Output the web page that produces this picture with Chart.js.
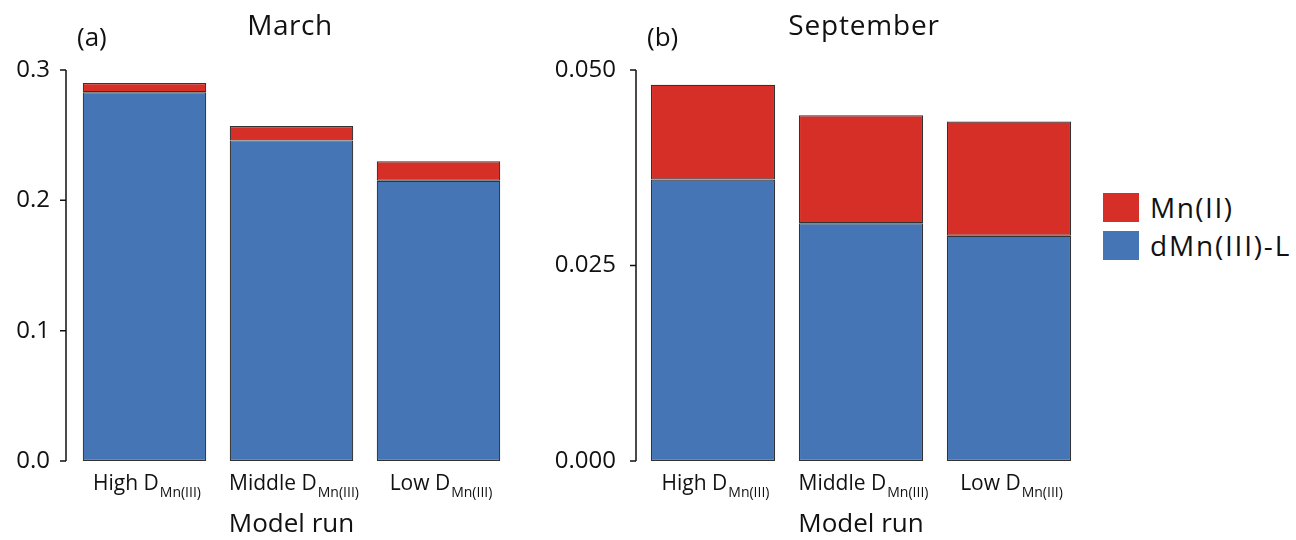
<!DOCTYPE html>
<html>
<head>
<meta charset="utf-8">
<script src="https://cdn.jsdelivr.net/npm/chart.js@4.4.1/dist/chart.umd.min.js"></script>
<style>
    body { margin: 0; background: #fff; }
    #wrap { position: relative; width: 1296px; height: 540px; font-family: 'Open Sans', sans-serif; color: #111; }
    canvas { position: absolute; top: 0; }
    .txt { position: absolute; line-height: 1; white-space: nowrap; }
    .key { position: absolute; width: 36px; height: 29px; }
</style>
</head>
<body>
<div id="wrap">
    <canvas id="march" width="520" height="540" style="left:0px"></canvas>
    <canvas id="sept" width="580" height="540" style="left:520px"></canvas>

    <div class="txt" style="left:77px; top:23px; font-size:26px;">(a)</div>
    <div class="txt" style="left:190px; top:10px; width:200px; text-align:center; font-size:28px; letter-spacing:0.5px;">March</div>
    <div class="txt" style="left:647px; top:23px; font-size:26px;">(b)</div>
    <div class="txt" style="left:764px; top:10px; width:200px; text-align:center; font-size:28px; letter-spacing:0.8px;">September</div>

    <div class="key" style="left:1103px; top:193px; background:#d62f27;"></div>
    <div class="key" style="left:1103px; top:231px; background:#4575b5;"></div>
    <div class="txt" style="left:1150px; top:193px; font-size:28px; letter-spacing:1.5px;">Mn(II)</div>
    <div class="txt" style="left:1150px; top:231px; font-size:28px; letter-spacing:1.8px;">dMn(III)-L</div>
</div>
<script>
// model runs, stacked: dMn(III)-L at the bottom, Mn(II) on top
const runs = ['High', 'Middle', 'Low'];
const runSub = 'Mn(III)';

const marchMn3L = [0.283, 0.246, 0.215];
const marchMn2 = [0.007, 0.011, 0.015];
const marchTicks = [0, 0.1, 0.2, 0.3];

const septMn3L = [0.0360, 0.0304, 0.0288];
const septMn2 = [0.0121, 0.0138, 0.0146];
const septTicks = [0, 0.025, 0.05];

const red = '#d62f27';
const blue = '#4575b5';
const edge = '#333333';
const font = "'Open Sans', sans-serif";

// y axis line + ticks sit a little left of the plot, and the x labels need a subscript
const axisPlugin = {
    id: 'axisLine',
    afterDraw(chart, args, opts) {
        const ctx = chart.ctx;
        const x = chart.scales.x;
        const y = chart.scales.y;
        const ax = chart.chartArea.left - opts.gap;
        ctx.save();
        ctx.strokeStyle = '#111';
        ctx.lineWidth = 1.5;
        ctx.beginPath();
        ctx.moveTo(ax, y.getPixelForValue(y.max));
        ctx.lineTo(ax, y.getPixelForValue(y.min));
        y.ticks.forEach((t) => {
            const py = y.getPixelForValue(t.value);
            ctx.moveTo(ax - 6, py);
            ctx.lineTo(ax, py);
        });
        ctx.stroke();

        ctx.fillStyle = '#111';
        ctx.textAlign = 'left';
        ctx.textBaseline = 'alphabetic';
        x.getLabels().forEach((lab, i) => {
            const main = lab + ' D';
            ctx.font = '21px ' + font;
            const w1 = ctx.measureText(main).width;
            ctx.font = '14px ' + font;
            const w2 = ctx.measureText(runSub).width;
            const left = x.getPixelForValue(i) - (w1 + w2) / 2 + 2;
            ctx.font = '21px ' + font;
            ctx.fillText(main, left, 490);
            ctx.font = '14px ' + font;
            ctx.fillText(runSub, left + w1 + 1, 497);
        });
        ctx.restore();
    }
};

function makePanel(id, mn3L, mn2, ticks, decimals, box) {
    new Chart(document.getElementById(id), {
        type: 'bar',
        data: {
            labels: runs,
            datasets: [
                {
                    label: 'dMn(III)-L',
                    data: mn3L,
                    backgroundColor: blue,
                    borderColor: edge,
                    borderWidth: 1.2,
                    borderSkipped: false,
                    barPercentage: 0.84,
                    categoryPercentage: 1,
                },
                {
                    label: 'Mn(II)',
                    data: mn2,
                    backgroundColor: red,
                    borderColor: edge,
                    borderWidth: 1.2,
                    borderSkipped: false,
                    barPercentage: 0.84,
                    categoryPercentage: 1,
                },
            ],
        },
        options: {
            responsive: false,
            animation: false,
            layout: { padding: { left: 0, right: box.right, top: 70, bottom: 0 } },
            plugins: {
                legend: { display: false },
                tooltip: { enabled: false },
                axisLine: { gap: box.gap },
            },
            scales: {
                x: {
                    stacked: true,
                    grid: { display: false, drawTicks: false },
                    border: { display: false },
                    ticks: { display: false },
                    title: {
                        display: true,
                        text: 'Model run',
                        color: '#111',
                        font: { family: font, size: 26 },
                        padding: { top: 0, bottom: 0 },
                    },
                    afterFit: (s) => { s.height = 79; },
                },
                y: {
                    stacked: true,
                    min: ticks[0],
                    max: ticks[ticks.length - 1],
                    grid: { display: false, drawTicks: false },
                    border: { display: false },
                    ticks: {
                        stepSize: ticks[1] - ticks[0],
                        color: '#111',
                        padding: box.pad,
                        font: { family: font, size: 24 },
                        callback: (v) => Number(v).toFixed(decimals),
                    },
                    afterFit: (s) => { s.width = box.left; },
                },
            },
        },
        plugins: [axisPlugin],
    });
}

makePanel('march', marchMn3L, marchMn2, marchTicks, 1, { left: 71, right: 8, gap: 5, pad: 21 });
makePanel('sept', septMn3L, septMn2, septTicks, 3, { left: 119, right: 17, gap: 3, pad: 23 });
</script>
</body>
</html>
